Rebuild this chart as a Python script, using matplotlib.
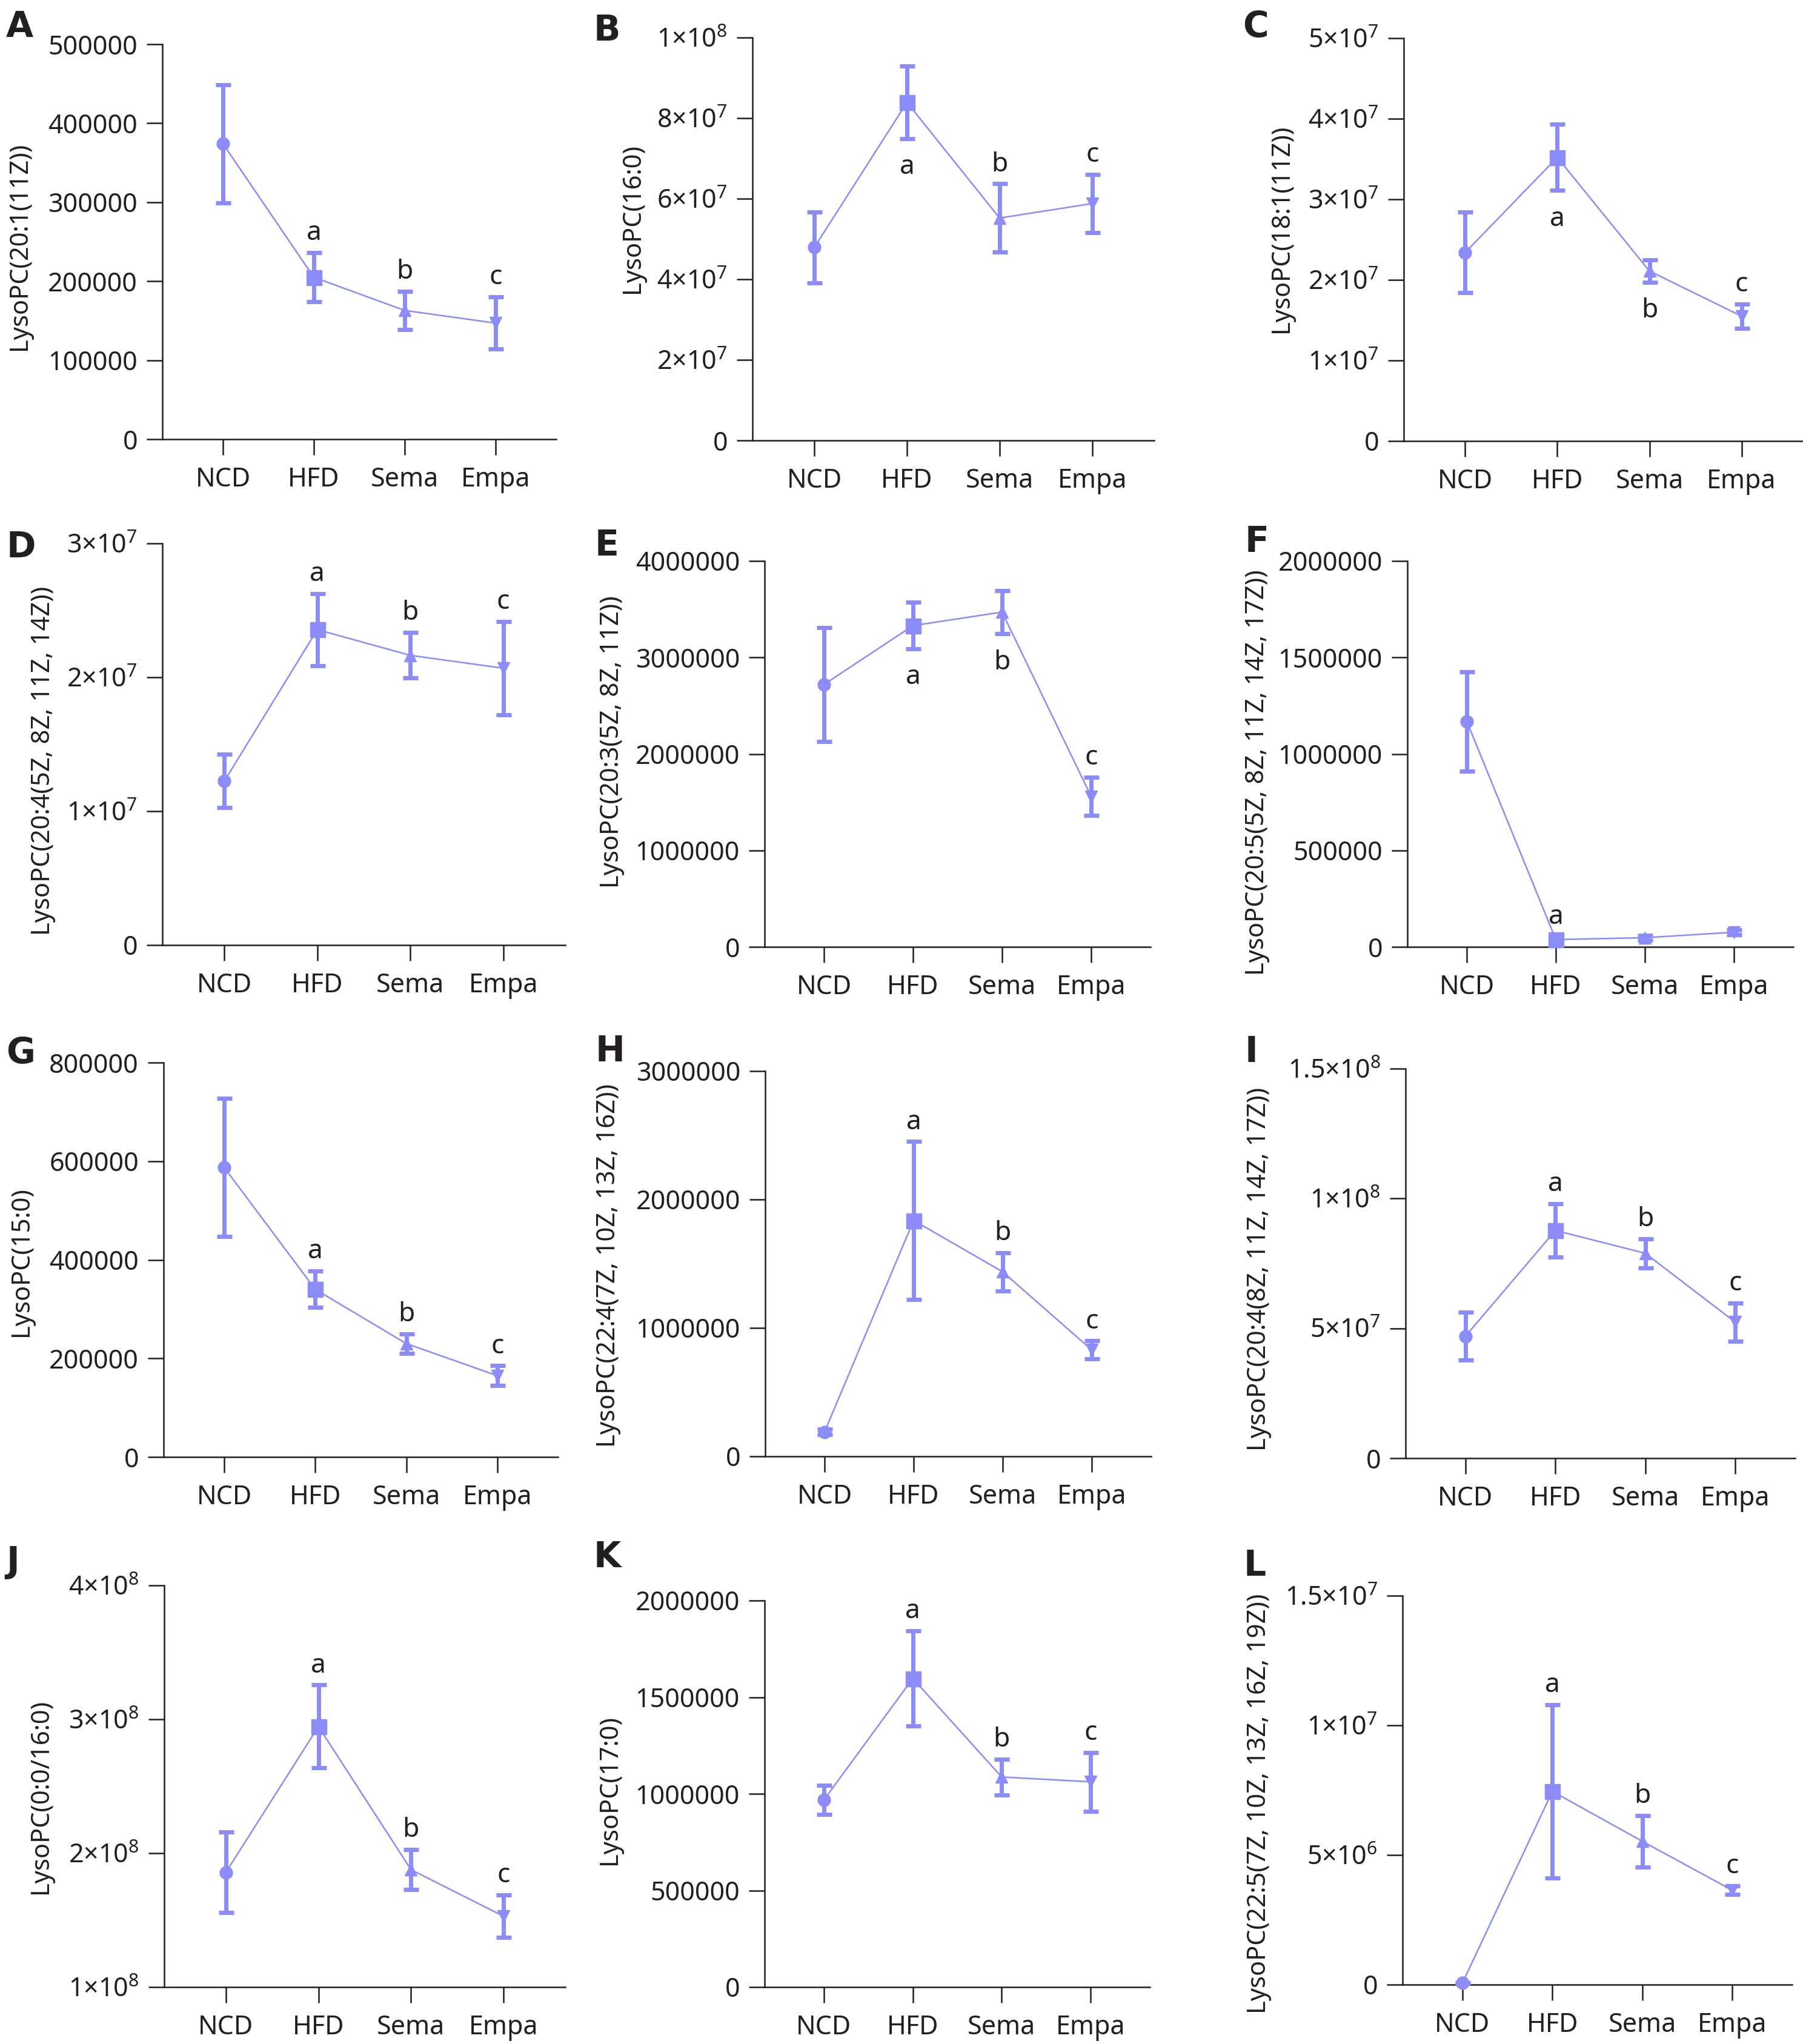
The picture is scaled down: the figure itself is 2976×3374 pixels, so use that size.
import matplotlib
matplotlib.use('Agg')
import matplotlib.pyplot as plt

plt.rcParams['font.family'] = ['Noto Sans', 'DejaVu Sans']
plt.rcParams['mathtext.fontset'] = 'custom'
plt.rcParams['mathtext.rm'] = 'Noto Sans'
plt.rcParams['mathtext.it'] = 'Noto Sans:italic'
plt.rcParams['mathtext.bf'] = 'Noto Sans:bold'

# groups shown on every panel
groups = ['NCD', 'HFD', 'Sema', 'Empa']
markers = ['o', 's', '^', 'v']
marker_sizes = [15, 18, 14, 14]

# values (mean and error per group)
a_mean = [374000, 205000, 163000, 147000]
a_err = [75000, 31000, 24000, 33000]
b_mean = [4.79e7, 8.39e7, 5.52e7, 5.88e7]
b_err = [8.8e6, 9.0e6, 8.5e6, 7.2e6]
c_mean = [2.34e7, 3.52e7, 2.11e7, 1.55e7]
c_err = [5.0e6, 4.1e6, 1.4e6, 1.5e6]
d_mean = [1.225e7, 2.356e7, 2.164e7, 2.068e7]
d_err = [2.0e6, 2.7e6, 1.7e6, 3.5e6]
e_mean = [2.72e6, 3.33e6, 3.47e6, 1.56e6]
e_err = [0.59e6, 0.24e6, 0.225e6, 0.2e6]
f_mean = [1.169e6, 38000, 47500, 76000]
f_err = [0.258e6, 15000, 12000, 12000]
g_mean = [587000, 340000, 230000, 165000]
g_err = [140000, 37000, 20000, 20000]
h_mean = [191000, 1.837e6, 1.437e6, 0.829e6]
h_err = [20000, 0.614e6, 0.15e6, 0.07e6]
i_mean = [4.70e7, 8.77e7, 7.89e7, 5.24e7]
i_err = [9.3e6, 10.3e6, 5.6e6, 7.4e6]
j_mean = [1.857e8, 2.946e8, 1.877e8, 1.529e8]
j_err = [3.0e7, 3.1e7, 1.5e7, 1.6e7]
k_mean = [0.968e6, 1.597e6, 1.087e6, 1.062e6]
k_err = [0.076e6, 0.247e6, 0.093e6, 0.152e6]
l_mean = [0.065e6, 7.454e6, 5.529e6, 3.643e6]
l_err = [0, 3.35e6, 1.0e6, 0.17e6]

ylabels = ['LysoPC(20:1(11Z))', 'LysoPC(16:0)', 'LysoPC(18:1(11Z))',
           'LysoPC(20:4(5Z, 8Z, 11Z, 14Z))', 'LysoPC(20:3(5Z, 8Z, 11Z))',
           'LysoPC(20:5(5Z, 8Z, 11Z, 14Z, 17Z))', 'LysoPC(15:0)',
           'LysoPC(22:4(7Z, 10Z, 13Z, 16Z))', 'LysoPC(20:4(8Z, 11Z, 14Z, 17Z))',
           'LysoPC(0:0/16:0)', 'LysoPC(17:0)',
           'LysoPC(22:5(7Z, 10Z, 13Z, 16Z, 19Z))']
letters = list('ABCDEFGHIJKL')

# y ticks and their labels
a_ticks = [0, 100000, 200000, 300000, 400000, 500000]
a_labels = ['0', '100000', '200000', '300000', '400000', '500000']
b_ticks = [0, 2e7, 4e7, 6e7, 8e7, 1e8]
b_labels = ['0', '2×10^7', '4×10^7', '6×10^7', '8×10^7', '1×10^8']
c_ticks = [0, 1e7, 2e7, 3e7, 4e7, 5e7]
c_labels = ['0', '1×10^7', '2×10^7', '3×10^7', '4×10^7', '5×10^7']
d_ticks = [0, 1e7, 2e7, 3e7]
d_labels = ['0', '1×10^7', '2×10^7', '3×10^7']
e_ticks = [0, 1e6, 2e6, 3e6, 4e6]
e_labels = ['0', '1000000', '2000000', '3000000', '4000000']
f_ticks = [0, 5e5, 1e6, 1.5e6, 2e6]
f_labels = ['0', '500000', '1000000', '1500000', '2000000']
g_ticks = [0, 2e5, 4e5, 6e5, 8e5]
g_labels = ['0', '200000', '400000', '600000', '800000']
h_ticks = [0, 1e6, 2e6, 3e6]
h_labels = ['0', '1000000', '2000000', '3000000']
i_ticks = [0, 5e7, 1e8, 1.5e8]
i_labels = ['0', '5×10^7', '1×10^8', '1.5×10^8']
j_ticks = [1e8, 2e8, 3e8, 4e8]
j_labels = ['1×10^8', '2×10^8', '3×10^8', '4×10^8']
k_ticks = [0, 5e5, 1e6, 1.5e6, 2e6]
k_labels = ['0', '500000', '1000000', '1500000', '2000000']
l_ticks = [0, 5e6, 1e7, 1.5e7]
l_labels = ['0', '5×10^6', '1×10^7', '1.5×10^7']

# significance letters: (group index, letter, above/below)
a_sig = [(1, 'a', 'up'), (2, 'b', 'up'), (3, 'c', 'up')]
b_sig = [(1, 'a', 'down'), (2, 'b', 'up'), (3, 'c', 'up')]
c_sig = [(1, 'a', 'down'), (2, 'b', 'down'), (3, 'c', 'up')]
d_sig = [(1, 'a', 'up'), (2, 'b', 'up'), (3, 'c', 'up')]
e_sig = [(1, 'a', 'down'), (2, 'b', 'down'), (3, 'c', 'up')]
f_sig = [(1, 'a', 'up')]
g_sig = [(1, 'a', 'up'), (2, 'b', 'up'), (3, 'c', 'up')]
h_sig = [(1, 'a', 'up'), (2, 'b', 'up'), (3, 'c', 'up')]
i_sig = [(1, 'a', 'up'), (2, 'b', 'up'), (3, 'c', 'up')]
j_sig = [(1, 'a', 'up'), (2, 'b', 'up'), (3, 'c', 'up')]
k_sig = [(1, 'a', 'up'), (2, 'b', 'up'), (3, 'c', 'up')]
l_sig = [(1, 'a', 'up'), (2, 'b', 'up'), (3, 'c', 'up')]

means = [a_mean, b_mean, c_mean, d_mean, e_mean, f_mean,
         g_mean, h_mean, i_mean, j_mean, k_mean, l_mean]
errs = [a_err, b_err, c_err, d_err, e_err, f_err,
        g_err, h_err, i_err, j_err, k_err, l_err]
ticks = [a_ticks, b_ticks, c_ticks, d_ticks, e_ticks, f_ticks,
         g_ticks, h_ticks, i_ticks, j_ticks, k_ticks, l_ticks]
tick_labels = [a_labels, b_labels, c_labels, d_labels, e_labels, f_labels,
               g_labels, h_labels, i_labels, j_labels, k_labels, l_labels]
sigs = [a_sig, b_sig, c_sig, d_sig, e_sig, f_sig,
        g_sig, h_sig, i_sig, j_sig, k_sig, l_sig]

# layout in pixels: spine x, top y, bottom y, width, ylabel centre x/y, letter x/y
boxes = [
    (268, 73, 725, 650, 32, 406, 10, 16),
    (1242, 62, 727, 663, 1044, 360, 980, 22),
    (2317, 63, 728, 659, 2115, 377, 2051, 16),
    (268, 897, 1560, 665, 71, 1256, 11, 875),
    (1262, 926, 1563, 637, 1010, 1225, 982, 872),
    (2323, 926, 1563, 637, 2075, 1275, 2055, 866),
    (270, 1754, 2405, 651, 35, 2083, 10, 1710),
    (1263, 1768, 2404, 637, 1004, 2089, 983, 1707),
    (2320, 1764, 2407, 643, 2078, 2095, 2055, 1708),
    (271, 2617, 3280, 662, 67, 2965, 10, 2550),
    (1262, 2642, 3280, 636, 1006, 2954, 980, 2542),
    (2315, 2634, 3276, 643, 2078, 2977, 2053, 2556),
]

BLUE = '#8c8cf8'
INK = '#231f20'
W, H = 2976, 3374


def fmt_label(s):
    if '^' in s:
        base, exp = s.split('^')
        return r'$\mathregular{%s^{%s}}$' % (base, exp)
    return s


fig = plt.figure(figsize=(W / 100, H / 100), dpi=100)
fig.patch.set_facecolor('white')

for n in range(12):
    sx, top, bot, wid, lx, ly, tx, ty = boxes[n]
    ax = fig.add_axes([sx / W, 1 - bot / H, wid / W, (bot - top) / H])
    m = means[n]
    e = errs[n]
    x = list(range(4))
    ax.plot(x, m, color=BLUE, lw=1.8, zorder=2, clip_on=False)
    for i in x:
        ax.errorbar(i, m[i], yerr=e[i], fmt=markers[i], ms=marker_sizes[i],
                    color=BLUE, ecolor=BLUE, elinewidth=5, capsize=9,
                    capthick=5, zorder=3, clip_on=False)

    for gi, txt, side in sigs[n]:
        if side == 'up':
            ax.annotate(txt, (gi, m[gi] + e[gi]), xytext=(0, 15),
                        textcoords='offset points', ha='center',
                        va='baseline', fontsize=32, color=INK)
        else:
            ax.annotate(txt, (gi, m[gi] - e[gi]), xytext=(0, -42),
                        textcoords='offset points', ha='center',
                        va='baseline', fontsize=32, color=INK)

    ax.set_xlim(-0.667, 3.667)
    ax.set_ylim(ticks[n][0], ticks[n][-1])
    ax.set_yticks(ticks[n])
    ax.set_yticklabels([fmt_label(s) for s in tick_labels[n]])
    ax.set_xticks(x)
    ax.set_xticklabels(groups)
    for side in ['top', 'right']:
        ax.spines[side].set_visible(False)
    for side in ['left', 'bottom']:
        ax.spines[side].set_linewidth(1.8)
        ax.spines[side].set_color(INK)
    ax.tick_params(axis='both', length=18.5, width=1.8, color=INK,
                   labelsize=31, labelcolor=INK)
    ax.tick_params(axis='y', pad=11)
    ax.tick_params(axis='x', pad=14)
    ax.set_facecolor('none')

    ax.set_ylabel(ylabels[n], fontsize=30, color=INK, va='center')
    ax.yaxis.set_label_coords((lx - sx) / wid, (bot - ly) / (bot - top))

    fig.text(tx / W, 1 - ty / H, letters[n], fontsize=42, fontweight='bold',
             family='DejaVu Sans', color=INK, ha='left', va='top')

fig.savefig('out.png', dpi=100, facecolor='white')
